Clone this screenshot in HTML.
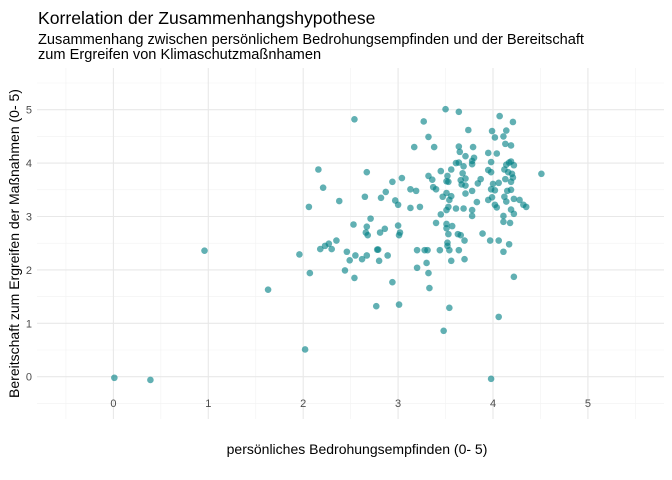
<!DOCTYPE html>
<html><head><meta charset="utf-8"><style>
html,body{margin:0;padding:0;background:#fff;}
svg{display:block;font-family:"Liberation Sans",sans-serif;}
</style></head><body>
<svg id="chart" width="672" height="480" viewBox="0 0 672 480" xmlns="http://www.w3.org/2000/svg">
<text x="38" y="24" font-size="17.6" fill="#000">Korrelation der Zusammenhangshypothese</text>
<text x="38" y="44" font-size="14.6" fill="#000">Zusammenhang zwischen persönlichem Bedrohungsempfinden und der Bereitschaft</text>
<text x="38" y="59" font-size="14.6" fill="#000">zum Ergreifen von Klimaschutzmaßnhamen</text>
<g id="grid"></g>
<g id="ticks"></g>
<g id="points"></g>
<text x="357" y="454" font-size="14" text-anchor="middle" fill="#000">persönliches Bedrohungsempfinden (0- 5)</text>
<text transform="translate(19,243.5) rotate(-90)" font-size="14" text-anchor="middle" fill="#000">Bereitschaft zum Ergreifen der Maßnahmen (0- 5)</text>
</svg>
<script>
const xTicks=[0,1,2,3,4,5];
const yTicks=[0,1,2,3,4,5];
const xMinor=[-0.5,0.5,1.5,2.5,3.5,4.5,5.5];
const yMinor=[-0.5,0.5,1.5,2.5,3.5,4.5,5.5];
const xVals=[2.54,3.17,2.16,2.67,2.94,3.04,2.21,3.13,3.19,2.87,2.65,2.82,2.38,2.06,2.97,3.00,3.13,2.71,2.53,2.67,3.00,2.86,2.81,2.66,2.68,3.02,3.01,2.35,2.27,2.23,2.18,2.30,1.96,2.46,2.55,2.49,2.62,2.67,2.78,2.79,2.89,2.80,3.20,2.07,2.44,2.54,2.94,3.20,2.77,3.01,
3.50,3.64,4.07,3.27,4.21,3.74,3.99,4.14,3.32,4.02,4.11,3.38,3.64,3.79,4.13,4.19,3.65,3.71,3.95,4.04,3.80,3.78,3.78,3.61,3.64,3.98,4.17,4.19,4.14,4.22,4.51,3.69,3.56,3.45,3.32,3.36,3.52,3.51,3.53,3.68,3.71,3.66,3.67,3.71,3.87,3.84,3.95,3.98,4.12,4.16,4.20,4.21,4.13,4.19,4.06,4.00,3.98,4.02,4.15,4.19,3.78,3.71,3.51,3.56,3.47,3.54,3.37,3.40,
3.95,3.99,4.12,4.14,4.22,4.28,4.32,4.35,3.83,4.02,4.04,3.53,3.51,3.61,3.69,3.78,3.78,3.45,3.23,4.19,4.22,4.11,4.11,4.18,3.40,3.51,3.51,3.57,3.53,3.63,3.66,3.70,3.89,3.97,4.06,4.17,4.11,3.52,3.52,3.44,3.54,3.64,3.28,3.31,3.56,3.70,3.30,3.32,4.22,3.33,3.54,4.06,
0.01,0.39,0.96,1.63,2.02,3.48,3.98];
const yVals=[4.82,4.30,3.88,3.83,3.65,3.72,3.54,3.51,3.48,3.46,3.37,3.35,3.29,3.18,3.30,3.22,3.16,2.96,2.85,2.81,2.83,2.77,2.70,2.70,2.65,2.70,2.65,2.55,2.49,2.45,2.39,2.39,2.29,2.34,2.27,2.18,2.20,2.27,2.38,2.38,2.27,2.17,2.37,1.94,1.99,1.85,1.77,2.04,1.32,1.35,
5.01,4.96,4.88,4.78,4.77,4.62,4.60,4.61,4.49,4.48,4.50,4.30,4.31,4.30,4.36,4.33,4.21,4.13,4.19,4.18,4.10,4.04,3.98,4.00,4.01,4.02,4.01,4.03,3.97,3.96,3.80,3.94,3.88,3.85,3.76,3.69,3.76,3.66,3.65,3.81,3.71,3.68,3.60,3.58,3.70,3.62,3.87,3.83,3.88,3.83,3.80,3.73,3.70,3.65,3.63,3.61,3.51,3.49,3.48,3.50,3.48,3.43,3.44,3.38,3.37,3.31,3.55,3.51,
3.31,3.36,3.37,3.28,3.33,3.31,3.22,3.18,3.27,3.22,3.17,3.18,3.12,3.15,3.15,3.12,3.01,3.04,3.18,3.13,3.05,3.01,2.90,2.88,2.88,2.86,2.78,2.82,2.67,2.67,2.65,2.55,2.68,2.55,2.55,2.48,2.34,2.51,2.45,2.37,2.37,2.37,2.37,2.37,2.17,2.20,2.13,1.94,1.87,1.66,1.29,1.12,
-0.02,-0.06,2.36,1.63,0.51,0.86,-0.04];
const NS='http://www.w3.org/2000/svg';
const X0=113.4, XS=94.9, Y0=376.7, YS=53.4;
const PL=37, PR=664, PT=68, PB=419;
function sx(v){return X0+v*XS;}
function sy(v){return Y0-v*YS;}
const grid=document.getElementById('grid');
const ticks=document.getElementById('ticks');
const pts=document.getElementById('points');
function line(x1,y1,x2,y2,c,w,name){
  const l=document.createElementNS(NS,'line');
  l.setAttribute('x1',x1);l.setAttribute('y1',y1);l.setAttribute('x2',x2);l.setAttribute('y2',y2);
  l.setAttribute('stroke',c);l.setAttribute('stroke-width',w);
  
  
  grid.appendChild(l);
}
xMinor.forEach(v=>line(sx(v),PT,sx(v),PB,'#f2f2f2',0.6,'x-minor-gridline'));
yMinor.forEach(v=>line(PL,sy(v),PR,sy(v),'#f2f2f2',0.6,'y-minor-gridline'));
xTicks.forEach(v=>line(sx(v),PT,sx(v),PB,'#e8e8e8',1.1,'x-major-gridline'));
yTicks.forEach(v=>line(PL,sy(v),PR,sy(v),'#e8e8e8',1.1,'y-major-gridline'));
xTicks.forEach(v=>{
  const t=document.createElementNS(NS,'text');
  t.setAttribute('x',sx(v));t.setAttribute('y',407);t.setAttribute('font-size','11');
  t.setAttribute('text-anchor','middle');t.setAttribute('fill','#4d4d4d');
  t.textContent=v;
  
  
  ticks.appendChild(t);
});
yTicks.forEach(v=>{
  const t=document.createElementNS(NS,'text');
  t.setAttribute('x',32);t.setAttribute('y',sy(v)+4);t.setAttribute('font-size','11');
  t.setAttribute('text-anchor','end');t.setAttribute('fill','#4d4d4d');
  t.textContent=v;
  
  
  ticks.appendChild(t);
});
for(let i=0;i<xVals.length;i++){
  const c=document.createElementNS(NS,'circle');
  c.setAttribute('cx',sx(xVals[i]));c.setAttribute('cy',sy(yVals[i]));c.setAttribute('r',3.3);
  c.setAttribute('fill','rgb(0,128,133)');c.setAttribute('fill-opacity','0.62');
  
  
  pts.appendChild(c);
}
</script>
</body></html>
